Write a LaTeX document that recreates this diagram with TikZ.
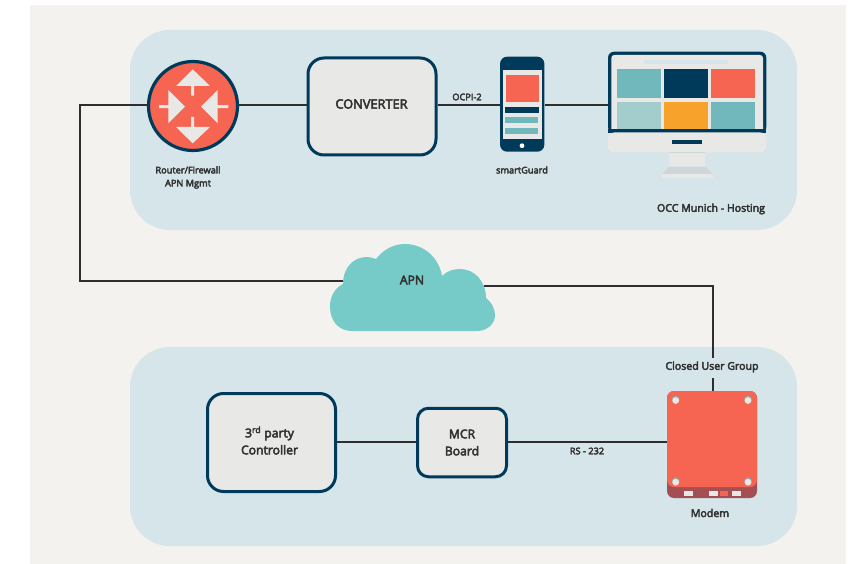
\documentclass[tikz,border=0pt]{standalone}
\usepackage{fontspec}
\setmainfont{Open Sans}
\newfontfamily\diagfont[FakeBold=4]{Open Sans}
\definecolor{pagebg}{HTML}{F3F2EE}
\definecolor{panel}{HTML}{D6E5E9}
\definecolor{navy}{HTML}{003A5B}
\definecolor{coral}{HTML}{F56552}
\definecolor{boxfill}{HTML}{E8E8E6}
\definecolor{cloudc}{HTML}{76CBC9}
\definecolor{tealc}{HTML}{70B8BB}
\definecolor{palet}{HTML}{A3CDCC}
\definecolor{orangec}{HTML}{F6A22B}
\definecolor{modemdk}{HTML}{A34F53}
\definecolor{standgray}{HTML}{CDD6D9}
\definecolor{wire}{HTML}{2E2E2E}
\definecolor{ink}{HTML}{333333}
\tikzset{
  panelbox/.style={fill=panel,draw=none},
  device/.style={draw=navy,fill=boxfill,line width=3pt,rounded corners=#1,inner sep=0pt},
  wirestyle/.style={draw=wire,line width=1.2pt},
  lab/.style={font=\diagfont\fontsize{9.2pt}{13pt}\selectfont,text=ink,align=center,inner sep=0pt},
  labwide/.style={font=\diagfont\fontsize{10.6pt}{12pt}\selectfont,text=ink,align=center,inner sep=0pt},
  big/.style={font=\diagfont\fontsize{12.2pt}{17pt}\selectfont,text=ink,align=center,inner sep=0pt},
  bigger/.style={font=\diagfont\fontsize{12.8pt}{17pt}\selectfont,text=ink,align=center,inner sep=0pt},
  ghost/.style={draw=none,fill=none,inner sep=0pt,minimum width=#1}
}
\begin{document}
\begin{tikzpicture}[x=1pt,y=-1pt]
\useasboundingbox (0,0) rectangle (856,564);
\fill[white] (0,0) rectangle (856,564);
\fill[pagebg] (30,5) rectangle (846,564);
\fill[panelbox,rounded corners=40pt] (130,30) rectangle (797,230);
\fill[panelbox,rounded corners=40pt] (130,347) rectangle (797,546);
% cloud
\fill[cloudc] (352,331) .. controls (338,331) and (330,320) .. (330,307)
  .. controls (330,296) and (335,288) .. (343,284)
  .. controls (343,268) and (353,257) .. (367,257)
  .. controls (370,257) and (373,258) .. (376,259)
  .. controls (383,250) and (393,244) .. (405,244)
  .. controls (424,244) and (439,258) .. (442,276)
  .. controls (447,271) and (453,269) .. (460,269)
  .. controls (475,269) and (486,282) .. (486,298)
  .. controls (491,302) and (495,308) .. (495,315)
  .. controls (495,324) and (487,331) .. (477,331) -- cycle;
\coordinate (cloudW) at (343,281);
\coordinate (cloudE) at (484,286);
\node[big] (apn) at (412,280) {APN};
% top devices
\node[circle,draw=navy,fill=coral,line width=3.2pt,minimum size=89pt,inner sep=0pt] (router) at (193,106) {};
\fill[boxfill] (192.7,69.3) -- (210,86) -- (194.2,86) -- (194.2,95.7) -- (191.2,95.7) -- (191.2,86) -- (176,86) -- cycle;
\fill[boxfill] (192.7,143.3) -- (210,127) -- (194.2,127) -- (194.2,117) -- (191.2,117) -- (191.2,127) -- (176,127) -- cycle;
\fill[boxfill] (185,106.7) -- (168.3,90) -- (168.3,105.2) -- (159,105.2) -- (159,108.2) -- (168.3,108.2) -- (168.3,123.3) -- cycle;
\fill[boxfill] (201,106.7) -- (217.7,90) -- (217.7,105.2) -- (228.3,105.2) -- (228.3,108.2) -- (217.7,108.2) -- (217.7,123.3) -- cycle;
\node[device=16pt,minimum width=128pt,minimum height=97pt] (conv) at (372,106.5) {};
\node[bigger] at (371.5,104) {CONVERTER};
% phone
\node[fill=navy,rounded corners=7pt,minimum width=44.3pt,minimum height=95pt,inner sep=0pt] (phone) at (522.2,104.2) {};
\fill[boxfill] (502.7,70) rectangle (542,139);
\fill[coral] (506,75) rectangle (539,102);
\fill[navy] (505,107) rectangle (539,113);
\fill[tealc] (505,117) rectangle (538,123);
\fill[tealc] (505,128) rectangle (538,134);
\fill[white] (522,145.7) circle (2.4pt);
% monitor
\node[ghost=158.3pt,minimum height=127pt] (monitor) at (687.2,115) {};
\fill[navy,rounded corners=6pt] (608,133) -- (608,51.7) -- (766.3,51.7) -- (766.3,133) -- cycle;
\fill[boxfill,rounded corners=3pt] (611.3,133) -- (611.3,55) -- (763,55) -- (763,133) -- cycle;
\fill[panel] (644,60) rectangle (728,64);
\fill[tealc] (617,69) rectangle (661,98);
\fill[navy] (664,69) rectangle (708,98);
\fill[coral] (711,69) rectangle (755,98);
\fill[palet] (617,102) rectangle (661,129);
\fill[orangec] (664,102) rectangle (708,129);
\fill[tealc] (711,102) rectangle (755,129);
\fill[navy] (608,129) rectangle (766.3,133);
\fill[boxfill,rounded corners=6pt] (608,132.5) -- (766.3,132.5) -- (766.3,152.3) -- (608,152.3) -- cycle;
\fill[navy] (672,140) rectangle (702,144);
\fill[boxfill] (669,152.3) rectangle (705,166.7);
\fill[standgray] (669,152.3) rectangle (705,153.3);
\fill[standgray] (669,166.7) -- (705,166.7) -- (713,174.3) -- (662,174.3) -- cycle;
\fill[boxfill] (662,174.3) rectangle (713,178);
% bottom devices
\node[device=16pt,minimum width=128pt,minimum height=98pt] (ctrl) at (271.5,442.5) {};
\node[big] at (269.5,440.5) {3\textsuperscript{rd} party\\Controller};
\node[device=11pt,minimum width=89pt,minimum height=68.5pt] (mcr) at (462,442.5) {};
\node[big] at (mcr.center) {MCR\\Board};
% modem
\node[fill=modemdk,rounded corners=7pt,minimum width=90pt,minimum height=107pt,inner sep=0pt] (modem) at (712,444.5) {};
\fill[coral,rounded corners=7pt] (667,391) rectangle (757,487);
\fill[boxfill] (684,491) rectangle (693,496);
\fill[boxfill] (709,491) rectangle (718,496);
\fill[coral] (720,491) rectangle (728,496);
\fill[boxfill] (732,491) rectangle (741,496);
\foreach \hx/\hy in {675.7/400,748/400,675.7/481.7,748/481.7}{
  \fill[gray!75] (\hx,\hy-0.7) circle (3.9pt);
  \fill[boxfill] (\hx,\hy+0.5) circle (3.4pt);
}
% connectors
\coordinate (bendA) at (80,105);
\coordinate (bendB) at (80,281);
\coordinate (bendC) at (713,286);
\coordinate (gapA) at (713,358);
\coordinate (gapB) at (713,378);
\coordinate (rowB) at (80,442);
\draw[wirestyle] (router.west |- bendA) -- (bendA) -- (bendB) -- (cloudW);
\draw[wirestyle] (router.east |- bendA) -- (conv.west |- bendA);
\draw[wirestyle] (conv.east |- bendA) -- (phone.west |- bendA);
\draw[wirestyle] (phone.east |- bendA) -- (monitor.west |- bendA);
\draw[wirestyle] (cloudE) -- (bendC) -- (gapA);
\draw[wirestyle] (gapB) -- (gapB |- modem.north);
\draw[wirestyle] (ctrl.east |- rowB) -- (mcr.west |- rowB);
\draw[wirestyle] (mcr.east |- rowB) -- (modem.west |- rowB);
% labels
\node[lab] at (188,177.5) {Router/Firewall\\APN Mgmt};
\node[lab] at (467,97) {OCPI-2};
\node[lab] at (522,170) {smartGuard};
\node[labwide] at (711,209) {OCC Munich - Hosting};
\node[labwide] at (712,367) {Closed User Group};
\node[lab] at (587,451) {RS - 232};
\node[labwide] at (710,513) {Modem};
\end{tikzpicture}
\end{document}
